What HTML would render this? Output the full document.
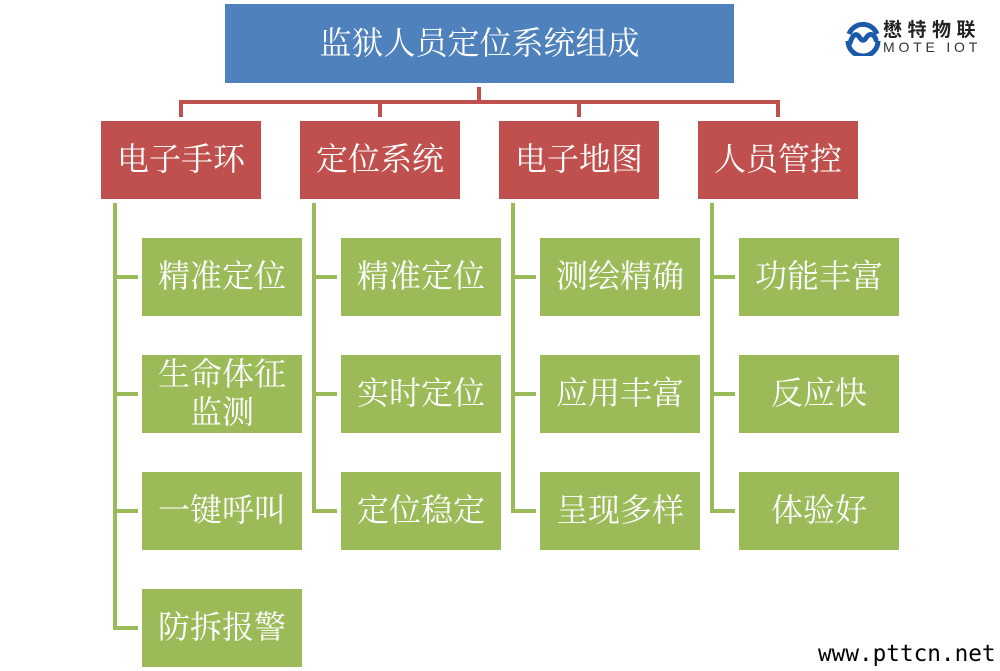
<!DOCTYPE html>
<html>
<head>
<meta charset="utf-8">
<style>
  html,body{margin:0;padding:0;background:#fff;}
  body{width:1000px;height:671px;position:relative;overflow:hidden;}
  .b{position:absolute;color:#fff;font-family:"Liberation Serif","Noto Serif CJK SC",serif;font-size:32px;display:flex;align-items:center;justify-content:center;text-align:center;line-height:38px;}
  .blue{background:#4F81BD;}
  .red{background:#C0504D;}
  .green{background:#9BBB59;}
  .l{position:absolute;}
  .rl{background:#C0504D;}
  .gl{background:#9BBB59;}
</style>
</head>
<body>
<!-- top box -->
<div class="b blue" style="left:225px;top:4px;width:509px;height:79px;padding-bottom:2px;box-sizing:border-box;">监狱人员定位系统组成</div>

<!-- red connectors -->
<div class="l rl" style="left:477px;top:87px;width:4px;height:17px;"></div>
<div class="l rl" style="left:179px;top:100px;width:601px;height:4px;"></div>
<div class="l rl" style="left:179px;top:100px;width:4px;height:17px;"></div>
<div class="l rl" style="left:378px;top:100px;width:4px;height:17px;"></div>
<div class="l rl" style="left:577px;top:100px;width:4px;height:17px;"></div>
<div class="l rl" style="left:776px;top:100px;width:4px;height:17px;"></div>

<!-- red boxes -->
<div class="b red" style="left:101px;top:121px;width:160px;height:78px;padding-bottom:3px;box-sizing:border-box;">电子手环</div>
<div class="b red" style="left:300px;top:121px;width:160px;height:78px;padding-bottom:3px;box-sizing:border-box;">定位系统</div>
<div class="b red" style="left:499px;top:121px;width:160px;height:78px;padding-bottom:3px;box-sizing:border-box;">电子地图</div>
<div class="b red" style="left:698px;top:121px;width:160px;height:78px;padding-bottom:3px;box-sizing:border-box;">人员管控</div>

<!-- green verticals -->
<div class="l gl" style="left:113px;top:203px;width:4px;height:427px;"></div>
<div class="l gl" style="left:312px;top:203px;width:4px;height:310px;"></div>
<div class="l gl" style="left:511px;top:203px;width:4px;height:310px;"></div>
<div class="l gl" style="left:710px;top:203px;width:4px;height:310px;"></div>

<!-- green branches -->
<div class="l gl" style="left:113px;top:275px;width:25px;height:4px;"></div>
<div class="l gl" style="left:113px;top:392px;width:25px;height:4px;"></div>
<div class="l gl" style="left:113px;top:509px;width:25px;height:4px;"></div>
<div class="l gl" style="left:113px;top:626px;width:25px;height:4px;"></div>

<div class="l gl" style="left:312px;top:275px;width:25px;height:4px;"></div>
<div class="l gl" style="left:312px;top:392px;width:25px;height:4px;"></div>
<div class="l gl" style="left:312px;top:509px;width:25px;height:4px;"></div>

<div class="l gl" style="left:511px;top:275px;width:25px;height:4px;"></div>
<div class="l gl" style="left:511px;top:392px;width:25px;height:4px;"></div>
<div class="l gl" style="left:511px;top:509px;width:25px;height:4px;"></div>

<div class="l gl" style="left:710px;top:275px;width:25px;height:4px;"></div>
<div class="l gl" style="left:710px;top:392px;width:25px;height:4px;"></div>
<div class="l gl" style="left:710px;top:509px;width:25px;height:4px;"></div>

<!-- green boxes col1 -->
<div class="b green" style="left:142px;top:238px;width:160px;height:78px;padding-bottom:3px;box-sizing:border-box;">精准定位</div>
<div class="b green" style="left:142px;top:355px;width:160px;height:78px;padding-bottom:2px;box-sizing:border-box;">生命体征<br>监测</div>
<div class="b green" style="left:142px;top:472px;width:160px;height:78px;padding-bottom:3px;box-sizing:border-box;">一键呼叫</div>
<div class="b green" style="left:142px;top:589px;width:160px;height:78px;padding-bottom:3px;box-sizing:border-box;">防拆报警</div>

<!-- col2 -->
<div class="b green" style="left:341px;top:238px;width:160px;height:78px;padding-bottom:3px;box-sizing:border-box;">精准定位</div>
<div class="b green" style="left:341px;top:355px;width:160px;height:78px;padding-bottom:3px;box-sizing:border-box;">实时定位</div>
<div class="b green" style="left:341px;top:472px;width:160px;height:78px;padding-bottom:3px;box-sizing:border-box;">定位稳定</div>

<!-- col3 -->
<div class="b green" style="left:540px;top:238px;width:160px;height:78px;padding-bottom:3px;box-sizing:border-box;">测绘精确</div>
<div class="b green" style="left:540px;top:355px;width:160px;height:78px;padding-bottom:3px;box-sizing:border-box;">应用丰富</div>
<div class="b green" style="left:540px;top:472px;width:160px;height:78px;padding-bottom:3px;box-sizing:border-box;">呈现多样</div>

<!-- col4 -->
<div class="b green" style="left:739px;top:238px;width:160px;height:78px;padding-bottom:3px;box-sizing:border-box;">功能丰富</div>
<div class="b green" style="left:739px;top:355px;width:160px;height:78px;padding-bottom:3px;box-sizing:border-box;">反应快</div>
<div class="b green" style="left:739px;top:472px;width:160px;height:78px;padding-bottom:3px;box-sizing:border-box;">体验好</div>

<!-- logo -->
<svg style="position:absolute;left:845px;top:20px;" width="36" height="36" viewBox="0 0 36 36">
  <path d="M4 14 A15 15 0 0 1 32 14" fill="none" stroke="#1a5aa8" stroke-width="5"/>
  <path d="M3 21 A15 15 0 0 0 33 21" fill="none" stroke="#1a5aa8" stroke-width="5"/>
  <path d="M5 23 C8 13 12 13 15 18 C17 21 19 21 21 18 C24 13 29 13 31 20" fill="none" stroke="#1a5aa8" stroke-width="5" stroke-linecap="round"/>
</svg>
<div style="position:absolute;left:883px;top:18px;width:100px;font-family:'Noto Sans CJK SC','WenQuanYi Zen Hei',sans-serif;font-weight:bold;font-size:19px;line-height:22px;color:#222;letter-spacing:5.5px;white-space:nowrap;">懋特物联</div>
<div style="position:absolute;left:883px;top:39px;width:100px;font-family:'Liberation Sans',sans-serif;font-size:14px;line-height:16px;color:#333;letter-spacing:3.8px;white-space:nowrap;">MOTE IOT</div>

<!-- footer -->
<div style="position:absolute;left:818px;top:641px;font-family:'DejaVu Sans Mono','Liberation Mono',monospace;font-size:22.7px;line-height:26px;color:#000;white-space:nowrap;">www.pttcn.net</div>
</body>
</html>
